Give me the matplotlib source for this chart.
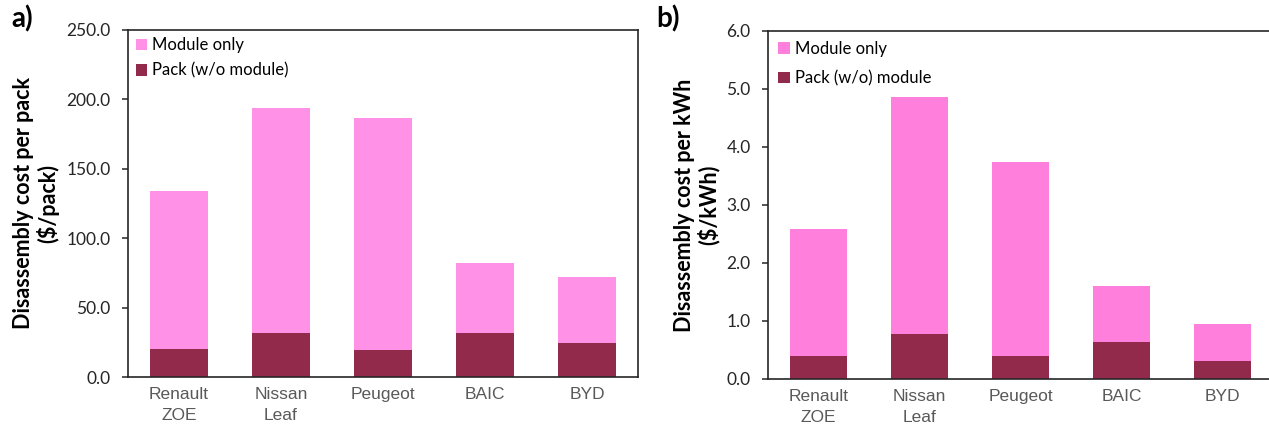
import matplotlib.pyplot as plt
from matplotlib.ticker import FormatStrFormatter

cars = ['Renault\nZOE', 'Nissan\nLeaf', 'Peugeot', 'BAIC', 'BYD']

# panel a) $/pack
pack_a = [20.5, 31.5, 19.5, 32.0, 24.5]
total_a = [134.0, 194.0, 186.5, 82.0, 72.0]
module_a = [t - p for t, p in zip(total_a, pack_a)]

# panel b) $/kWh
pack_b = [0.39, 0.78, 0.39, 0.63, 0.31]
total_b = [2.58, 4.85, 3.73, 1.61, 0.95]
module_b = [t - p for t, p in zip(total_b, pack_b)]

pack_color = '#922B4B'
tick_font = 'Lato'

fig = plt.figure(figsize=(12.69, 4.29), dpi=100)
ax1 = fig.add_axes([0.1009, 0.1212, 0.4019, 0.8095])
ax2 = fig.add_axes([0.6052, 0.1166, 0.3980, 0.8118])


def draw(ax, pack, module, mod_color, width, ymax, step, ylabel, labels, lspace, lpad):
    x = range(len(cars))
    ax.bar(x, pack, width, color=pack_color, label=labels[1], zorder=2)
    ax.bar(x, module, width, bottom=pack, color=mod_color, label=labels[0], zorder=2)
    ax.set_xlim(-0.5, len(cars) - 0.5)
    ax.set_ylim(0, ymax)
    ax.set_yticks([i * step for i in range(int(round(ymax / step)) + 1)])
    ax.yaxis.set_major_formatter(FormatStrFormatter('%.1f'))
    ax.set_xticks(list(x))
    ax.set_xticklabels(cars, fontfamily='Liberation Sans', fontsize=12.5,
                       color='#595959', linespacing=1.5)
    for t in ax.get_yticklabels():
        t.set_fontfamily(tick_font)
        t.set_fontsize(12.5)
        t.set_color('#262626')
    ax.tick_params(axis='x', length=0, pad=7)
    ax.tick_params(axis='y', length=4.5, width=1.1, color='#262626', pad=8)
    for s in ax.spines.values():
        s.set_color('#262626')
        s.set_linewidth(1.2)
    ax.set_ylabel(ylabel, fontfamily=tick_font, fontweight='bold', fontsize=15.5,
                  linespacing=1.12, labelpad=5)
    h, l = ax.get_legend_handles_labels()
    ax.legend(h[::-1], l[::-1], loc='upper left', frameon=False, handlelength=0.7,
              handleheight=0.7, handletextpad=0.3, labelspacing=lspace,
              borderaxespad=lpad, prop={'family': tick_font, 'size': 12})


draw(ax1, pack_a, module_a, '#FF92E6', 0.56, 250, 50,
     'Disassembly cost per pack\n($/pack)', ['Module only', 'Pack (w/o module)'], 0.55, 0.05)
draw(ax2, pack_b, module_b, '#FF80DC', 0.56, 6.0, 1.0,
     'Disassembly cost per kWh\n($/kWh)', ['Module only', 'Pack (w/o) module'], 0.8, 0.2)

fig.text(0.009, 0.955, 'a)', fontfamily=tick_font, fontweight='bold', fontsize=20, va='center')
fig.text(0.517, 0.955, 'b)', fontfamily=tick_font, fontweight='bold', fontsize=20, va='center')

fig.savefig('out.png', dpi=100)
